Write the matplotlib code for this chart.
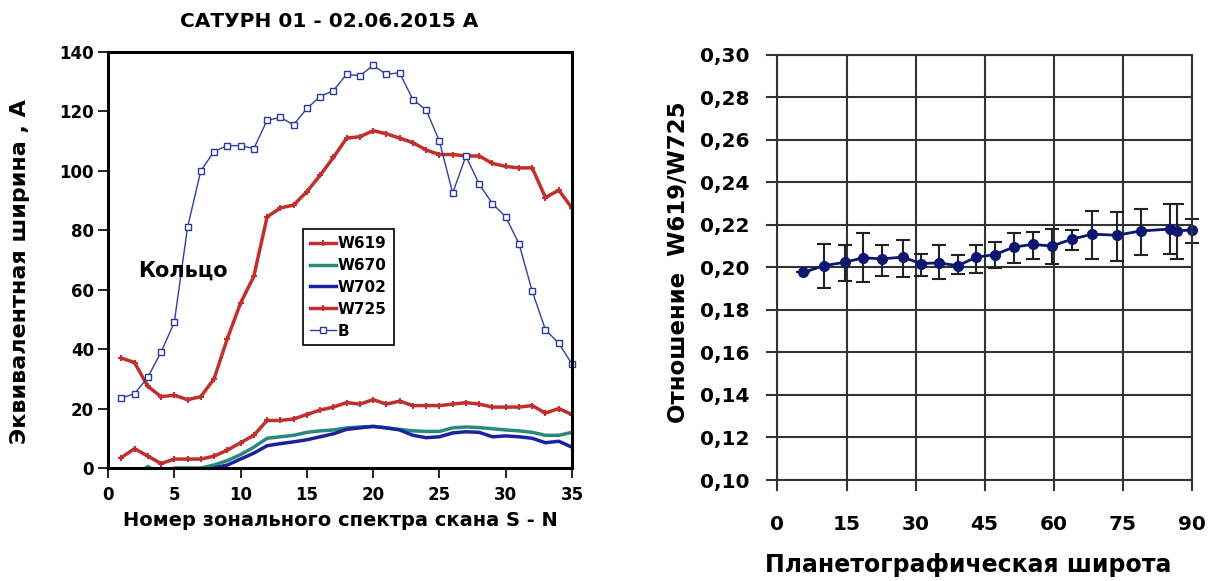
import numpy as np
import matplotlib
matplotlib.use("Agg")
import matplotlib.pyplot as plt

plt.rcParams['font.family'] = ['DejaVu Sans']
plt.rcParams['font.weight'] = 'bold'

nan = np.nan

# left chart: equivalent widths along the S-N scan
scan = np.arange(1, 36)
w619 = [3.5, 6.5, 4, 1.5, 3, 3, 3, 4, 6, 8.5, 11, 16, 16, 16.5, 18, 19.5, 20.5, 22,
        21.5, 23, 21.5, 22.5, 21, 21, 21, 21.5, 22, 21.5, 20.5, 20.5, 20.5, 21, 18.5, 20, 18]
w670 = [nan, -3, 0.5, -2, 0, 0, 0, 1, 2.5, 4.5, 7, 10, 10.5, 11, 12, 12.5, 12.8, 13.5,
        13.8, 14, 13.5, 13, 12.5, 12.3, 12.3, 13.5, 13.8, 13.6, 13.2, 12.8, 12.5, 12, 11, 11, 12]
w702 = [nan, nan, nan, nan, nan, nan, -2, 0, 1, 3, 5, 7.5, 8.2, 8.8, 9.5, 10.5, 11.5, 13,
        13.5, 14, 13.5, 12.8, 11, 10.2, 10.5, 11.8, 12.2, 12, 10.5, 10.8, 10.5, 10, 8.5, 9, 7]
w725 = [37, 35.5, 27.5, 24, 24.5, 23, 24, 30, 43.5, 55.5, 64.5, 84.5, 87.5, 88.5, 93, 98.5,
        104.5, 111, 111.5, 113.5, 112.5, 111, 109.5, 107, 105.5, 105.5, 105, 105, 102.5,
        101.5, 101, 101, 91, 93.5, 87.5]
b = [23.5, 25, 30.5, 39, 49, 81, 100, 106.5, 108.5, 108.5, 107.5, 117, 118, 115.5, 121,
     125, 127, 132.5, 132, 135.5, 132.5, 133, 124, 120.5, 110, 92.5, 105, 95.5, 89, 84.5,
     75.5, 59.5, 46.5, 42, 35]

# right chart: W619/W725 ratio vs latitude
lat = [5.6, 10.1, 14.7, 18.6, 22.7, 27.2, 31.2, 35.0, 39.2, 43.2, 47.3, 51.3, 55.5, 59.6,
       63.9, 68.4, 73.7, 78.9, 85.3, 86.7, 90.0]
ratio = [0.1976, 0.2008, 0.2024, 0.2045, 0.2040, 0.2048, 0.2018, 0.2021, 0.2008, 0.2048,
         0.2060, 0.2095, 0.2108, 0.2100, 0.2132, 0.2156, 0.2151, 0.2171, 0.2180, 0.2171, 0.2176]
ratio_hi = [0.1976, 0.2112, 0.2103, 0.2160, 0.2103, 0.2127, 0.2064, 0.2103, 0.2056, 0.2103,
            0.2119, 0.2160, 0.2167, 0.2180, 0.2175, 0.2264, 0.2259, 0.2275, 0.2299, 0.2299, 0.2227]
ratio_lo = [0.1976, 0.1905, 0.1938, 0.1932, 0.1960, 0.1954, 0.1960, 0.1946, 0.1969, 0.1973,
            0.1997, 0.2021, 0.2041, 0.2016, 0.2081, 0.2041, 0.2029, 0.2056, 0.2064, 0.2037, 0.2113]

red = '#c0302c'

fig = plt.figure(figsize=(12.08, 5.81), dpi=100)

# ---- left panel
ax1 = fig.add_axes([0.0894, 0.1945, 0.3841, 0.716])
ax1.plot(scan, w619, '-', color=red, lw=2.5, marker='+', ms=5, mew=1.5, label='W619')
ax1.plot(scan, w670, '-', color='#2a8a7a', lw=2.5, label='W670')
ax1.plot(scan, w702, '-', color='#1a22a0', lw=2.5, label='W702')
ax1.plot(scan, w725, '-', color=red, lw=2.5, marker='+', ms=5, mew=1.5, label='W725')
ax1.plot(scan, b, '-', color='#3040a0', lw=1, marker='s', ms=4.5, mfc='white',
         mec='#2a3a9a', mew=1, label='B', clip_on=False)
ax1.set_xlim(0, 35)
ax1.set_ylim(0, 140)
ax1.set_xticks(np.arange(0, 36, 5))
ax1.set_yticks(np.arange(0, 141, 20))
for s in ax1.spines.values():
    s.set_linewidth(2.2)
ax1.tick_params(direction='out', length=7, width=1.2, labelsize=12)
ax1.tick_params(axis='x', pad=6)
ax1.tick_params(axis='y', pad=3)
ax1.set_xlabel('Номер зонального спектра скана S - N', fontsize=14, fontweight='bold')
ax1.xaxis.set_label_coords(0.5, -0.103)
ax1.set_ylabel('Эквивалентная ширина , А', fontsize=16, fontweight='bold')
ax1.yaxis.set_label_coords(-0.168, 0.472)
ax1.text(0.477, 1.073, 'САТУРН 01 - 02.06.2015 А', transform=ax1.transAxes,
         ha='center', va='center', fontsize=14.5, fontweight='bold')
ax1.text(2.3, 66.5, 'Кольцо', ha='left', va='center', fontsize=15, fontweight='bold')
leg = ax1.legend(loc='upper left', bbox_to_anchor=(0.42, 0.574), fontsize=11,
                 fancybox=False, framealpha=1, edgecolor='black', handlelength=1.7,
                 handletextpad=0.15, labelspacing=0.45, borderpad=0.45,
                 borderaxespad=0)
leg.get_frame().set_linewidth(1.2)
for t in leg.get_texts():
    t.set_fontweight('bold')

# ---- right panel
ax2 = fig.add_axes([0.6436, 0.1738, 0.3429, 0.7321])
lat = np.array(lat)
ratio = np.array(ratio)
yerr = [ratio - np.array(ratio_lo), np.array(ratio_hi) - ratio]
ax2.errorbar(lat, ratio, yerr=yerr, fmt='-o', color='#0d1670', lw=2, ms=7,
             ecolor='#222222', elinewidth=1.5, capsize=5, capthick=1.5, clip_on=False)
ax2.set_xlim(0, 90)
ax2.set_ylim(0.10, 0.30)
ax2.set_xticks(np.arange(0, 91, 15))
yt = np.arange(0.10, 0.301, 0.02)
ax2.set_yticks(yt)
ax2.set_yticklabels([f'{v:.2f}'.replace('.', ',') for v in yt])
ax2.grid(True, color='#333333', lw=1.5)
for s in ax2.spines.values():
    s.set_linewidth(1.5)
    s.set_color('#333333')
ax2.tick_params(direction='out', length=8, width=1.5, color='#333333', labelsize=14.5)
ax2.tick_params(axis='x', pad=17)
ax2.tick_params(axis='y', pad=12)
ax2.set_xlabel('Планетографическая широта', fontsize=17, fontweight='bold')
ax2.xaxis.set_label_coords(0.46, -0.172)
ax2.set_ylabel('Отношение  W619/W725', fontsize=16.5, fontweight='bold')
ax2.yaxis.set_label_coords(-0.211, 0.513)

fig.savefig('out.png', dpi=100)
